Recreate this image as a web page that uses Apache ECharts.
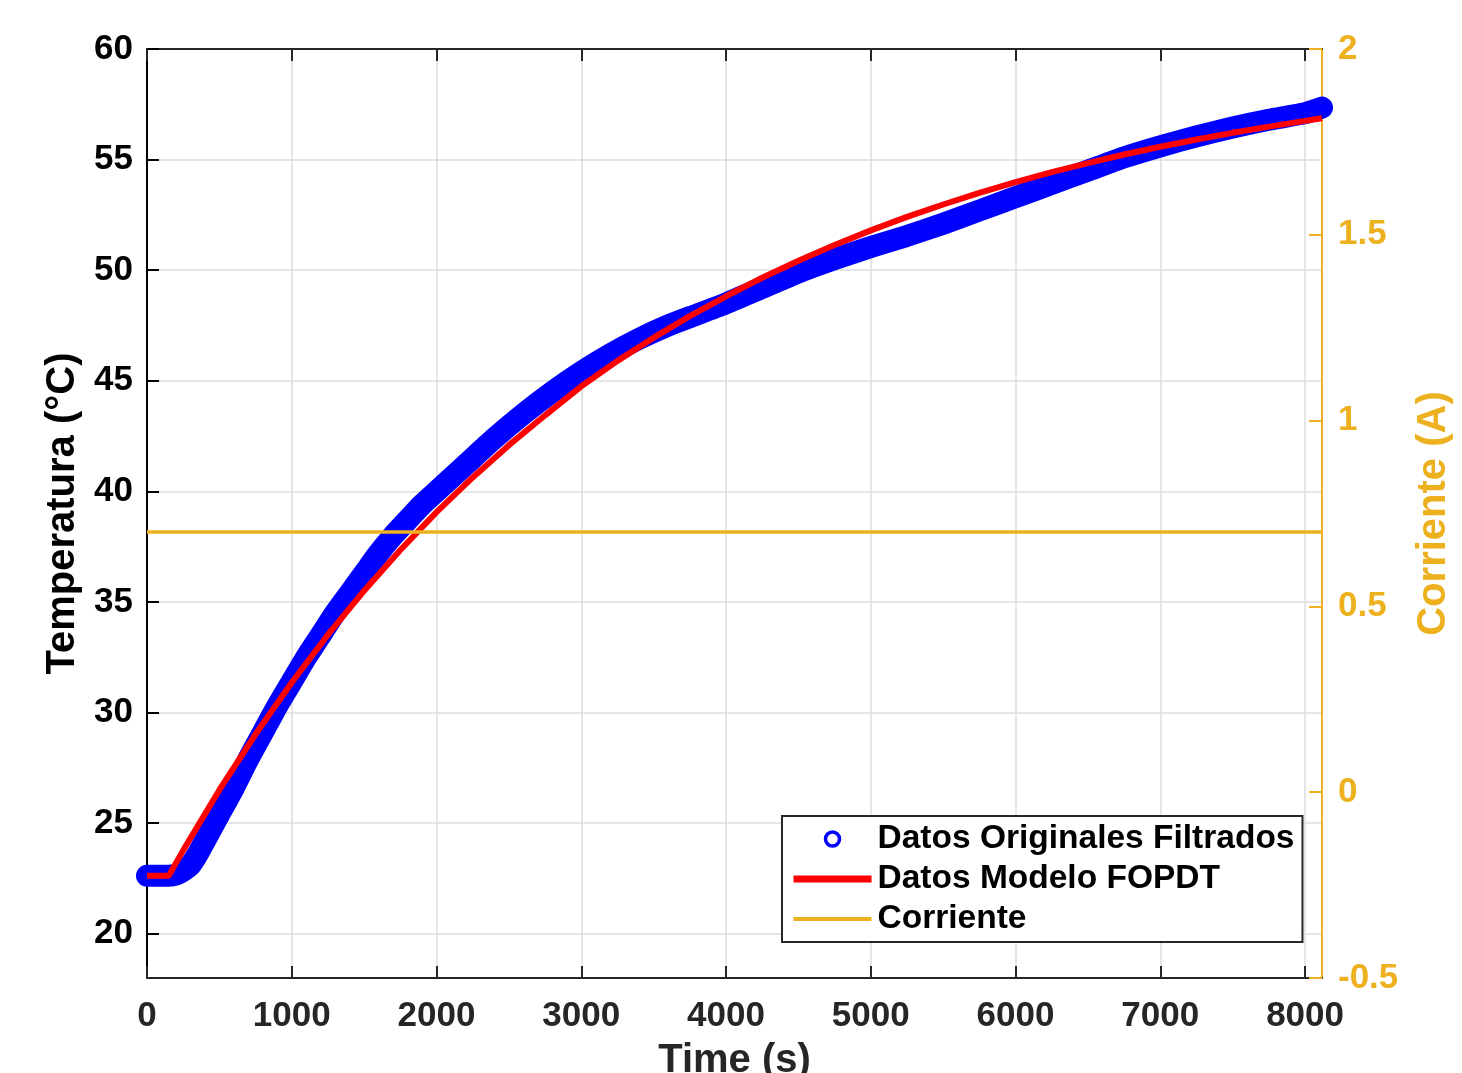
<!DOCTYPE html>
<html><head><meta charset="utf-8">
<script src="https://cdn.jsdelivr.net/npm/echarts@6/dist/echarts.min.js"></script>
<style>html,body{margin:0;padding:0;background:#fff}#c{width:1462px;height:1073px}</style>
</head><body><div id="c"></div>
<script>
// Datos Originales Filtrados (time s, temperature °C)
const timeBlue = [0,100,150,200,250,300,350,400,500,600,700,800,900,1000,1100,1200,1300,1400,1500,1600,1700,1800,1900,2000,2200,2400,2600,2800,3000,3200,3400,3600,3800,4000,4250,4500,4750,5000,5250,5500,5750,6000,6250,6500,6750,7000,7250,7500,7750,8000,8117];
const tempBlue = [22.62,22.62,22.62,22.67,22.85,23.1,23.6,24.2,25.4,26.6,27.9,29.1,30.3,31.4,32.5,33.5,34.5,35.4,36.3,37.2,38.0,38.7,39.4,40.0,41.2,42.4,43.5,44.5,45.4,46.2,46.9,47.5,48.0,48.5,49.2,49.9,50.5,51.05,51.55,52.1,52.7,53.3,53.9,54.5,55.1,55.6,56.05,56.45,56.8,57.1,57.35];
// Datos Modelo FOPDT
const timeModel = [0,150,250,500,750,1000,1250,1500,1750,2000,2250,2500,2750,3000,3250,3500,3750,4000,4250,4500,4750,5000,5250,5500,5750,6000,6250,6500,6750,7000,7250,7500,7750,8000,8117];
const tempModel = [22.62,22.62,23.77,26.5,29.02,31.36,33.52,35.51,37.35,39.06,40.63,42.09,43.44,44.75,45.9,46.95,47.92,48.82,49.66,50.43,51.14,51.8,52.41,52.97,53.5,53.98,54.43,54.84,55.23,55.58,55.91,56.21,56.49,56.75,56.87];
// Corriente (A)
const timeCurrent = [0, 8117];
const current = [0.7, 0.7];
// Tick values
const xTicks = [0,1000,2000,3000,4000,5000,6000,7000,8000];
const yTicks = [20,25,30,35,40,45,50,55,60];
const yRightTicks = [-0.5,0,0.5,1,1.5,2];

const FONT = "'Liberation Sans', Arial, sans-serif";
const DARK = '#262626';
const ORANGE = '#EDB120';
const GRID = '#dcdcdc';

const zip = (a, b) => a.map((v, i) => [v, b[i]]);

const chart = echarts.init(document.getElementById('c'), null, {renderer: 'canvas'});
chart.setOption({
  animation: false,
  backgroundColor: '#fff',
  textStyle: {fontFamily: FONT},
  grid: {left: 147, right: 140, top: 49, bottom: 95, containLabel: false, outerBoundsMode: 'none'},
  legend: {
    orient: 'vertical', left: 782, top: 816,
    padding: [3, 8, 3, 8], itemGap: 0, itemWidth: 78, itemHeight: 14,
    backgroundColor: '#fff', borderColor: DARK, borderWidth: 2, borderRadius: 0,
    selectedMode: false,
    textStyle: {fontSize: 33.5, fontWeight: 'bold', color: '#000', fontFamily: FONT, lineHeight: 40, padding: [0, 0, 0, 1]},
    data: [
      {name: 'Datos Originales Filtrados', icon: 'circle', itemStyle: {color: '#fff', borderColor: '#0000FF', borderWidth: 3.5}},
      {name: 'Datos Modelo FOPDT', itemStyle: {opacity: 0}, lineStyle: {width: 7, color: '#FF0000'}},
      {name: 'Corriente', itemStyle: {opacity: 0}, lineStyle: {width: 4, color: ORANGE}}
    ]
  },
  xAxis: [{
    type: 'value', position: 'bottom', min: 0, max: 8117, interval: 1000,
    axisLine: {onZero: false, lineStyle: {color: DARK, width: 2}},
    axisTick: {inside: true, length: 12, customValues: xTicks, lineStyle: {color: DARK, width: 2}},
    axisLabel: {customValues: xTicks, fontSize: 35, fontWeight: 'bold', color: DARK, margin: 21, fontFamily: FONT,
      formatter: v => String(v)},
    splitLine: {show: true, lineStyle: {color: GRID, width: 1.5}},
    name: 'Time (s)', nameLocation: 'middle', nameGap: 63,
    nameTextStyle: {fontSize: 40, fontWeight: 'bold', color: DARK, fontFamily: FONT}
  }, {
    type: 'value', position: 'top', min: 0, max: 8117, interval: 1000,
    axisLine: {onZero: false, lineStyle: {color: DARK, width: 2}},
    axisTick: {inside: true, length: 12, customValues: xTicks, lineStyle: {color: DARK, width: 2}},
    axisLabel: {show: false},
    splitLine: {show: false}
  }],
  yAxis: [{
    type: 'value', position: 'left', min: 18, max: 60, splitNumber: 8,
    axisLine: {show: true, onZero: false, lineStyle: {color: '#000', width: 2}},
    axisTick: {show: true, inside: true, length: 12, customValues: yTicks, lineStyle: {color: '#000', width: 2}},
    axisLabel: {customValues: yTicks, fontSize: 35, fontWeight: 'bold', color: '#000', margin: 14, fontFamily: FONT},
    splitLine: {show: true, lineStyle: {color: GRID, width: 1.5}},
    name: 'Temperatura (°C)', nameLocation: 'middle', nameRotate: 90, nameGap: 62,
    nameTextStyle: {fontSize: 40, fontWeight: 'bold', color: '#000', fontFamily: FONT}
  }, {
    type: 'value', position: 'right', min: -0.5, max: 2, interval: 0.5,
    axisLine: {show: true, onZero: false, lineStyle: {color: ORANGE, width: 2}},
    axisTick: {show: true, inside: true, length: 13, customValues: yRightTicks, lineStyle: {color: ORANGE, width: 2}},
    axisLabel: {customValues: yRightTicks, fontSize: 35, fontWeight: 'bold', color: ORANGE, margin: 16, fontFamily: FONT,
      formatter: v => String(v)},
    splitLine: {show: false},
    name: 'Corriente (A)', nameLocation: 'middle', nameRotate: 90, nameGap: 92,
    nameTextStyle: {fontSize: 40, fontWeight: 'bold', color: ORANGE, fontFamily: FONT}
  }],
  series: [{
    name: 'Datos Originales Filtrados', type: 'line', xAxisIndex: 0, yAxisIndex: 0,
    data: zip(timeBlue, tempBlue), symbol: 'none', smooth: 0.2, clip: false, z: 2,
    lineStyle: {color: '#0000FF', width: 22, cap: 'round', join: 'round'},
    itemStyle: {color: '#0000FF'}, emphasis: {disabled: true}
  }, {
    name: 'Datos Modelo FOPDT', type: 'line', xAxisIndex: 0, yAxisIndex: 0,
    data: zip(timeModel, tempModel), symbol: 'none', clip: false, z: 3,
    lineStyle: {color: '#FF0000', width: 6}, itemStyle: {color: '#FF0000'}, emphasis: {disabled: true}
  }, {
    name: 'Corriente', type: 'line', xAxisIndex: 0, yAxisIndex: 1,
    data: zip(timeCurrent, current), symbol: 'none', z: 4,
    lineStyle: {color: ORANGE, width: 3.5}, itemStyle: {color: ORANGE}, emphasis: {disabled: true}
  }]
});
</script>
</body></html>
